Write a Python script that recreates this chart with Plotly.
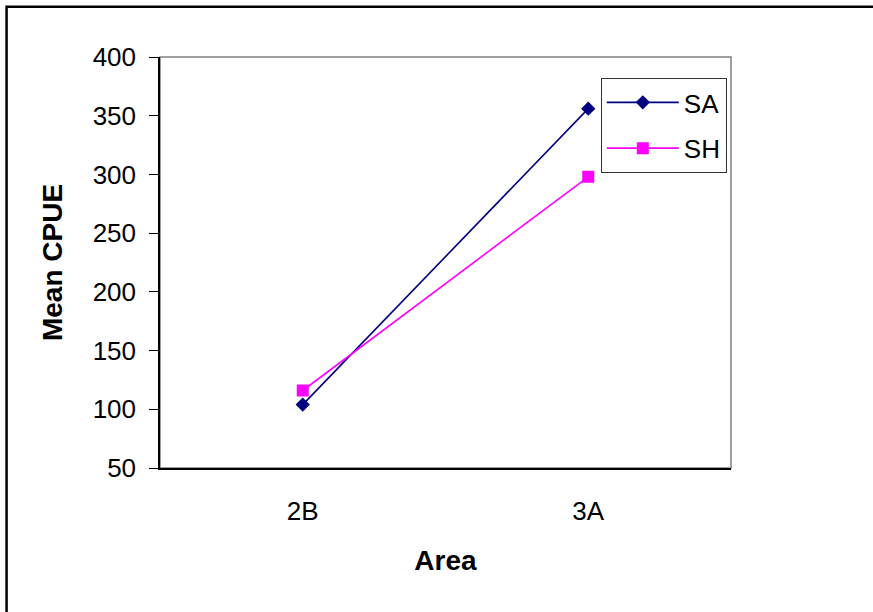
import plotly.graph_objects as go

# Mean CPUE by area for the two survey groups
areas = ["2B", "3A"]
sa_cpue = [104, 356]
sh_cpue = [116, 298]

y_ticks = [50, 100, 150, 200, 250, 300, 350, 400]

FONT = "Arial, 'Liberation Sans', sans-serif"

fig = go.Figure()
fig.add_trace(go.Scatter(
    x=areas, y=sa_cpue, name="SA", mode="lines+markers",
    line=dict(color="#000080", width=1.6),
    marker=dict(symbol="diamond", size=11, color="#000080"),
    legendgroup="SA",
))
fig.add_trace(go.Scatter(
    x=areas, y=sh_cpue, name="SH", mode="lines+markers",
    line=dict(color="#FF00FF", width=1.6),
    marker=dict(symbol="square", size=12, color="#FF00FF"),
    legendgroup="SH",
))

fig.update_layout(
    width=873, height=612,
    margin=dict(l=160, r=142, t=57, b=144),
    paper_bgcolor="white", plot_bgcolor="white",
    font=dict(family=FONT, size=26, color="black"),
    showlegend=True,
    legend=dict(
        x=0.772, y=0.949, xanchor="left", yanchor="top",
        bgcolor="white", bordercolor="#333333", borderwidth=1,
        font=dict(family=FONT, size=26, color="black"),
        itemwidth=72, tracegroupgap=9,
    ),
    xaxis=dict(
        type="category", range=[-0.5, 1.5],
        showgrid=False, zeroline=False,
        showline=True, linecolor="black", linewidth=1.5,
        ticks="", ticklabelstandoff=19,
        tickfont=dict(family=FONT, size=26),
        title=dict(text="<b>Area</b>", font=dict(family=FONT, size=28), standoff=25),
    ),
    yaxis=dict(
        range=[50, 400], tickvals=y_ticks,
        showgrid=False, zeroline=False,
        showline=True, linecolor="black", linewidth=1.5,
        ticks="outside", ticklen=9, tickcolor="black", tickwidth=1.2,
        ticklabelstandoff=8,
        tickfont=dict(family=FONT, size=26),
        title=dict(text="<b>Mean CPUE</b>", font=dict(family=FONT, size=28), standoff=22),
    ),
    shapes=[
        # plot area border
        dict(type="rect", xref="paper", yref="paper", x0=0, y0=0, x1=1, y1=1,
             line=dict(color="#808080", width=1.5), layer="below"),
        # outer chart frame
        dict(type="rect", xref="paper", yref="paper",
             x0=-0.2687, y0=-0.40, x1=1.40, y1=1.122,
             line=dict(color="black", width=2.5), layer="below"),
    ],
)

fig.write_html("out.html")
